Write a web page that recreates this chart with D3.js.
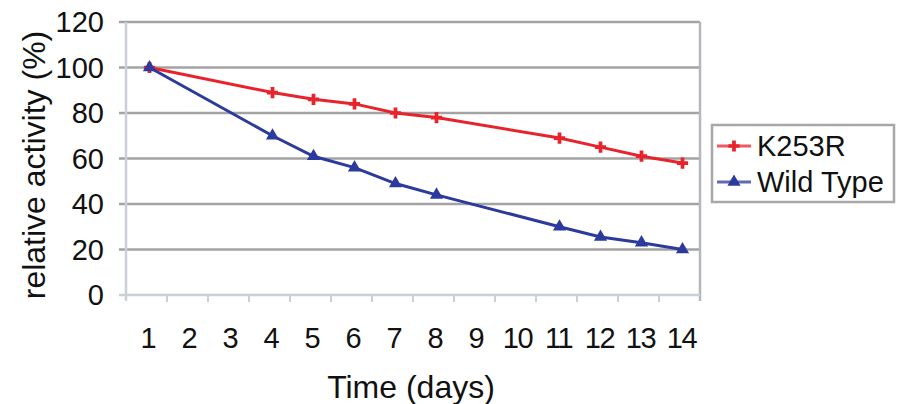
<!DOCTYPE html>
<html>
<head>
<meta charset="utf-8">
<script src="https://cdn.jsdelivr.net/npm/d3@7"></script>
<style>
  body { margin: 0; background: #fff; }
  svg { display: block; font-family: "Liberation Sans", Arial, sans-serif; }
</style>
</head>
<body>
<svg width="900" height="404"></svg>
<script>
// categories on the x axis and the measured days
const days = [1, 2, 3, 4, 5, 6, 7, 8, 9, 10, 11, 12, 13, 14];
const measuredDays = [1, 4, 5, 6, 7, 8, 11, 12, 13, 14];
const k253r = [100, 89, 86, 84, 80, 78, 69, 65, 61, 58];
const wildType = [100, 70, 61, 56, 49, 44, 30, 25.5, 23, 20];
const yTicks = [0, 20, 40, 60, 80, 100, 120];
const seriesNames = ["K253R", "Wild Type"];

const plot = {left: 126, right: 700, top: 22, bottom: 295};

const svg = d3.select('svg');

const x = d3.scaleBand().domain(days).range([plot.left, plot.right]).paddingInner(0).paddingOuter(0);
const y = d3.scaleLinear().domain([0, 120]).range([plot.bottom, plot.top]);

const red = '#e8232b', blue = '#2b3a9c';

// grid lines
svg.append('g').selectAll('line')
    .data(yTicks.filter(d => d > 0))
    .enter().append('line')
    .attr('x1', plot.left - 7).attr('x2', plot.right)
    .attr('y1', d => y(d)).attr('y2', d => y(d))
    .attr('stroke', '#a3a3a3').attr('stroke-width', 2.5);

// right border of plot area
svg.append('line')
    .attr('x1', plot.right).attr('x2', plot.right)
    .attr('y1', y(120)).attr('y2', plot.bottom + 6)
    .attr('stroke', '#b4b8bc').attr('stroke-width', 2.5);

// y axis line
svg.append('line')
    .attr('x1', plot.left).attr('x2', plot.left)
    .attr('y1', y(120)).attr('y2', plot.bottom + 6)
    .attr('stroke', '#c9d0d8').attr('stroke-width', 2.5);

// x axis with ticks between categories
const xAxis = svg.append('g');
xAxis.append('line')
    .attr('x1', plot.left - 7).attr('x2', plot.right)
    .attr('y1', plot.bottom).attr('y2', plot.bottom)
    .attr('stroke', '#c9d0d8').attr('stroke-width', 2.5);
xAxis.selectAll('.tk')
    .data(days.slice(1))
    .enter().append('line')
    .attr('x1', d => x(d)).attr('x2', d => x(d))
    .attr('y1', plot.bottom).attr('y2', plot.bottom + 7)
    .attr('stroke', '#c9d0d8').attr('stroke-width', 2);

xAxis.selectAll('text')
    .data(days)
    .enter().append('text')
    .attr('x', d => x(d) + x.bandwidth() / 2 + 2)
    .attr('y', 348)
    .attr('text-anchor', 'middle')
    .attr('font-size', 29)
    .attr('letter-spacing', d => d >= 10 ? -1.5 : 0)
    .attr('fill', '#111')
    .text(d => d);

// y tick labels
svg.append('g').selectAll('text')
    .data(yTicks)
    .enter().append('text')
    .attr('x', 104)
    .attr('y', d => y(d))
    .attr('dy', '0.36em')
    .attr('text-anchor', 'end')
    .attr('font-size', 29)
    .attr('fill', '#111')
    .text(d => d);

// axis titles
svg.append('text')
    .attr('x', 411).attr('y', 398)
    .attr('text-anchor', 'middle')
    .attr('font-size', 32)
    .attr('fill', '#111')
    .text('Time (days)');

svg.append('text')
    .attr('transform', 'translate(45,165) rotate(-90)')
    .attr('text-anchor', 'middle')
    .attr('font-size', 32)
    .attr('fill', '#111')
    .text('relative activity (%)');

// lines
const cx = d => x(d) + x.bandwidth() / 2 + 3;
const line = d3.line().x(d => cx(d[0])).y(d => y(d[1]));

const series = [
    {name: seriesNames[0], values: k253r, color: red, symbol: d3.symbolCross, size: 70},
    {name: seriesNames[1], values: wildType, color: blue, symbol: d3.symbolTriangle, size: 75}
];

series.forEach(function(s){
    const pts = measuredDays.map((d, i) => [d, s.values[i]]);
    svg.append('path')
        .attr('d', line(pts))
        .attr('fill', 'none')
        .attr('stroke', s.color)
        .attr('stroke-width', 3);
    svg.append('g').selectAll('path')
        .data(pts)
        .enter().append('path')
        .attr('transform', d => 'translate(' + cx(d[0]) + ',' + y(d[1]) + ')')
        .attr('d', d3.symbol().type(s.symbol).size(s.size))
        .attr('fill', s.color);
});

// legend
const legend = svg.append('g');
legend.append('rect')
    .attr('x', 712).attr('y', 125)
    .attr('width', 182).attr('height', 77)
    .attr('fill', '#fff')
    .attr('stroke', '#a8a8a8').attr('stroke-width', 2.5);

const items = legend.selectAll('.item')
    .data(series)
    .enter().append('g')
    .attr('transform', (d, i) => 'translate(0,' + (146 + i * 36) + ')');
items.append('line')
    .attr('x1', 717).attr('x2', 751)
    .attr('stroke', d => d.color).attr('stroke-width', 3)
    .attr('opacity', 0.75);
items.append('path')
    .attr('transform', 'translate(734,0)')
    .attr('d', d => d3.symbol().type(d.symbol).size(d.size)())
    .attr('fill', d => d.color);
items.append('text')
    .attr('x', 757).attr('y', 0)
    .attr('dy', '0.36em')
    .attr('font-size', 29)
    .attr('fill', '#111')
    .text(d => d.name);
</script>
</body>
</html>
